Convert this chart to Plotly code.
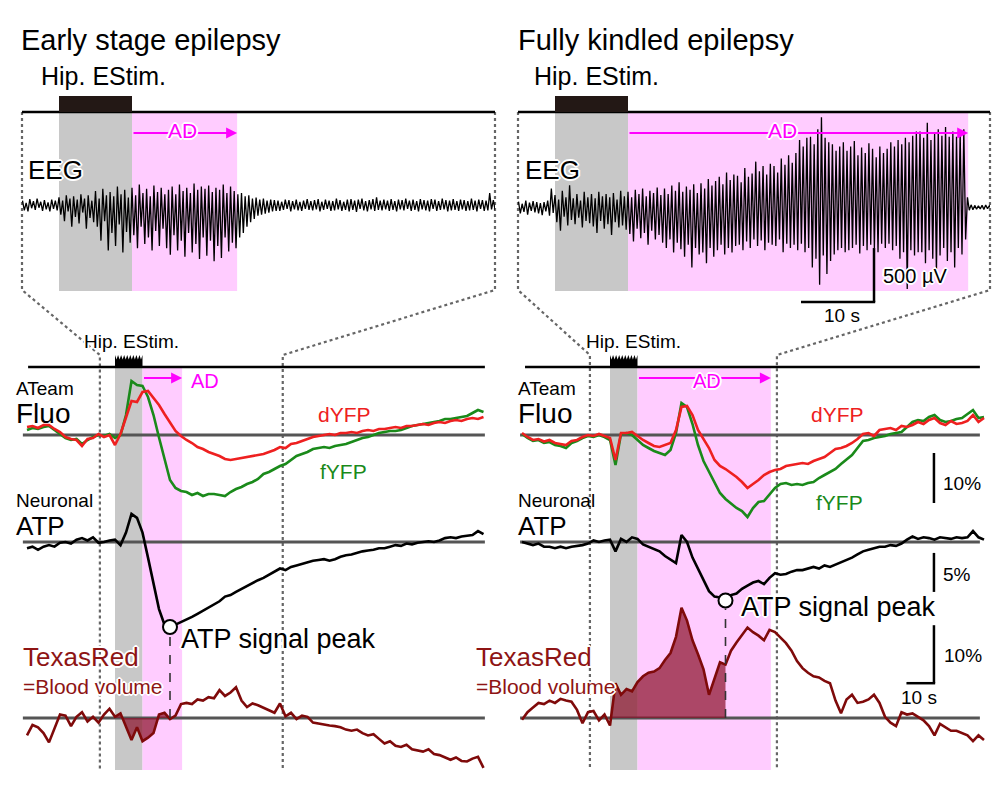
import numpy as np
import plotly.graph_objects as go

W, H = 1000, 796
FONT = "Liberation Sans, Arial, Helvetica, sans-serif"

# ======================= DATA =======================
STIM_DUR = 10.0                       # s, hippocampal electrical stimulation
AD_END_TOP = {"L": 24.4, "R": 56.6}   # s, end of afterdischarge (EEG view)
AD_END_LOW = {"L": 24.4, "R": 58.5}   # s, end of afterdischarge (imaging view)

# EEG (uV), sampled every 0.25 s starting at -5 s
EEG_T0, EEG_DT = -5.0, 0.25
eeg_left = [
    40, -50, 20, -60, 55, -30, 35, -45, 60, -25, 30, -55, 45, -40, 25, -60, 50, -35, 40, -50,
    70, -90, 40, -150, 90, -60, 60, -200, 80, -110, 50, -170, 100, -70, 60, -220, 90, -120, 40, -160,
    130, -200, 60, -330, 150, -150, 90, -420, 120, -260, 80, -380, 170, -180, 100, -440, 140, -250, 70, -350,
    160, -280, 90, -400, 190, -200, 110, -360, 150, -300, 80, -420, 180, -240, 120, -380, 160, -220, 100, -400,
    140, -460, 170, -280, 100, -420, 190, -330, 130, -480, 160, -260, 110, -440, 200, -360, 140, -500, 170, -300,
    150, -470, 180, -330, 120, -520, 160, -380, 140, -490, 190, -300, 110, -430, 170, -350, 130, -400, 100, -300,
    110, -260, 80, -200, 90, -160, 60, -130, 70, -100, 50, -90, 60, -80, 40, -70, 50, -60, 45, -55,
    40, -55, 30, -45, 50, -35, 45, -60, 35, -40, 50, -50, 30, -55, 40, -35, 55, -45, 35, -50,
    45, -40, 55, -60, 30, -45, 50, -35, 40, -55, 35, -50, 60, -40, 45, -55, 30, -45, 50, -60,
    55, -45, 40, -65, 50, -35, 60, -50, 35, -60, 45, -40, 55, -55, 70, -45, 40, -50, 50, -40,
    40, -55, 55, -45, 35, -60, 50, -40, 45, -50, 60, -35, 40, -55, 50, -45, 35, -60, 55, -40,
    45, -50, 40, -60, 55, -35, 50, -55, 35, -45, 60, -40, 45, -60, 40, -50, 55, -45, 35, -55,
    50, -40, 45, -55, 35, -50, 60, -45, 40, -60, 50, -35, 45, -55, 40, -50, 110, -40, 45, -50]
eeg_right = [
    50, -60, 30, -45, 60, -70, 40, -35, 55, -50, 45, -60, 35, -75, 45, -40, 60, -80, 170, -55,
    110, -140, 70, -220, 150, -90, 90, -170, 200, -120, 80, -160, 120, -100, 60, -190, 140, -130, 90, -150,
    120, -180, 80, -240, 140, -130, 100, -200, 120, -160, 90, -260, 130, -140, 70, -190, 150, -170, 100, -210,
    140, -250, 90, -320, 160, -200, 120, -290, 170, -240, 100, -350, 150, -220, 130, -300, 180, -260, 110, -330,
    170, -380, 120, -300, 200, -420, 150, -330, 230, -390, 140, -460, 190, -350, 160, -560, 210, -380, 130, -440,
    220, -420, 170, -520, 260, -380, 200, -460, 240, -400, 280, -350, 210, -440, 320, -380, 250, -420, 300, -360,
    290, -350, 230, -400, 360, -320, 280, -380, 310, -300, 420, -360, 330, -310, 380, -400, 300, -330, 400, -350,
    380, -360, 320, -300, 450, -420, 390, -340, 480, -380, 410, -350, 500, -400, 620, -340, 560, -420, 640, -380,
    650, -560, 580, -480, 720, -720, 830, -450, 640, -620, 600, -500, 580, -440, 520, -400, 560, -380, 600, -420,
    520, -400, 560, -380, 610, -350, 480, -430, 550, -360, 500, -400, 590, -350, 540, -380, 460, -420, 560, -340,
    500, -380, 540, -340, 600, -400, 560, -360, 620, -480, 580, -420, 640, -760, 600, -400, 660, -450, 700, -420,
    700, -420, 640, -520, 780, -400, 620, -480, 680, -620, 720, -450, 660, -380, 740, -500, 650, -420, 700, -560,
    650, -380, 700, -440, 720, -300, 90, -30, 20, -25, 15, -20, 12, -18, 15, -22, 18, -15, 12, -18]

# Imaging traces (%), sampled every 2 s starting at -32 s
LOW_T0, LOW_DT = -32.0, 2.0
left_dyfp = [
    1.6, 1.8, 1.4, 2.0, 2.0, 1.2, 0.6, -0.4, -0.8, -1.0,
    -2.2, -0.8, -0.6, 0.2, -0.4, 0.0, -2.0, 0.2, 3.5, 6.8,
    6.6, 8.6, 8.8, 7.4, 6.0, 4.2, 2.4, 0.8, -0.2, -1.0,
    -1.6, -2.4, -2.8, -3.4, -3.8, -4.2, -4.8, -5.0, -4.8, -4.6,
    -4.4, -4.2, -4.0, -3.8, -3.4, -3.0, -2.4, -2.6, -1.8, -1.6,
    -1.2, -0.8, -0.4, -0.2, 0.0, 0.2, 0.0, 0.4, 0.4, 0.6,
    0.4, 0.8, 1.0, 0.8, 1.2, 1.2, 1.4, 1.6, 1.4, 1.8,
    1.8, 2.0, 2.2, 2.0, 2.4, 2.6, 2.4, 2.8, 3.0, 2.8,
    3.2, 3.4, 3.2, 3.6]
left_fyfp = [
    1.0, 1.4, 1.2, 1.6, 1.8, 1.0, 0.2, -0.6, -1.0, -0.8,
    -1.8, -1.0, -0.4, 0.0, -0.2, 0.2, -0.6, 0.0, 4.0, 10.8,
    10.0, 9.8, 7.6, 4.0, -0.5, -5.0, -9.0, -10.6, -11.2, -11.4,
    -12.0, -11.6, -12.2, -11.8, -11.8, -12.0, -12.2, -11.4, -10.8, -10.4,
    -9.8, -9.4, -8.8, -7.8, -7.4, -6.8, -6.2, -5.8, -5.0, -4.2,
    -3.8, -3.4, -2.8, -2.6, -2.4, -2.6, -2.2, -2.0, -1.8, -1.4,
    -1.0, -0.6, -0.4, 0.0, 0.4, 0.6, 0.8, 0.8, 1.0, 1.4,
    1.8, 2.0, 2.2, 2.4, 2.6, 2.8, 3.2, 3.2, 3.4, 3.6,
    3.8, 4.4, 5.0, 4.6]
left_atp = [
    -0.8, -0.6, -1.0, -0.6, -0.4, -0.6, -0.1, 0.0, -0.2, 0.3,
    0.5, 0.2, 0.6, -0.1, 0.0, 0.2, 0.3, -0.4, 1.2, 3.6,
    3.1, 1.2, -2.0, -5.4, -8.6, -10.6, -10.9, -10.6, -10.3, -9.9,
    -9.6, -9.2, -8.8, -8.4, -8.0, -7.6, -7.0, -6.8, -6.4, -6.0,
    -5.6, -5.2, -4.9, -4.6, -4.2, -3.9, -3.4, -3.6, -3.2, -3.0,
    -2.8, -2.6, -2.4, -2.3, -2.2, -2.4, -2.2, -1.9, -1.7, -1.6,
    -1.4, -1.2, -1.1, -1.0, -0.8, -0.8, -0.6, -0.4, -0.5, -0.2,
    -0.3, -0.1, 0.0, 0.1, 0.0, 0.2, 0.5, 0.6, 0.5, 0.7,
    0.8, 0.9, 1.4, 1.0]
left_tex = [
    -3.0, -1.2, -1.6, -2.6, -4.2, -1.8, 0.6, 0.4, -1.4, 0.2,
    1.0, -0.6, 0.2, -0.8, 0.6, 1.6, 0.2, 0.8, -1.4, -3.8,
    -1.6, -4.0, -3.4, -2.6, 0.6, 0.9, -0.2, 0.4, 2.4, 2.6,
    2.4, 3.2, 3.0, 3.6, 3.4, 4.8, 3.8, 4.4, 5.3, 3.0,
    1.9, 2.5, 2.2, 1.8, 1.4, 0.9, 2.5, 0.3, 0.9, -0.2,
    0.4, 0.2, -0.8, -1.0, -1.1, -1.3, -1.4, -1.6, -2.0, -2.2,
    -2.0, -2.6, -3.0, -2.8, -3.6, -4.4, -4.0, -4.8, -5.0, -4.6,
    -5.4, -5.6, -5.8, -5.4, -6.2, -6.4, -6.8, -7.2, -6.8, -7.4,
    -7.5, -7.0, -6.7, -8.6]
right_dyfp = [
    0.4, -0.4, -1.0, -0.8, -1.3, -1.0, -1.6, -1.8, -2.0, -1.2,
    -1.0, -0.4, 0.0, -0.2, 0.2, -0.2, -0.6, -5.0, 0.4, 0.4,
    0.6, -0.2, -1.0, -1.6, -2.2, -2.4, -2.0, -1.6, 1.0, 5.6,
    5.8, 4.0, 1.0, -0.8, -2.6, -5.0, -6.2, -6.8, -7.6, -8.4,
    -9.4, -10.6, -9.8, -9.0, -8.0, -7.4, -7.0, -6.8, -6.2, -6.0,
    -5.8, -5.6, -5.8, -5.2, -4.8, -4.4, -3.6, -2.8, -2.6, -2.2,
    -1.6, -0.8, 0.2, 0.4, -0.2, 1.0, 1.2, 1.4, 1.0, 1.8,
    1.6, 2.0, 2.6, 2.2, 3.0, 3.4, 2.4, 2.0, 2.8, 2.2,
    2.4, 2.8, 4.0, 2.6, 3.4]
right_fyfp = [
    0.2, -0.6, -1.2, -1.0, -1.6, -1.4, -2.0, -2.2, -2.6, -1.6,
    -1.2, -0.6, -0.2, -0.4, 0.0, -0.4, -1.0, -6.0, 0.2, 0.4,
    0.0, -1.0, -2.0, -2.6, -3.2, -3.6, -4.0, -3.0, 0.4, 6.4,
    5.6, 2.2, -2.0, -5.2, -7.4, -9.6, -11.6, -12.8, -13.8, -14.6,
    -15.2, -16.4, -14.6, -13.4, -13.2, -12.0, -10.6, -9.8, -9.6, -10.0,
    -9.8, -10.0, -9.6, -9.4, -8.6, -8.0, -7.4, -6.8, -5.8, -4.8,
    -4.0, -2.6, -1.2, -1.0, -0.6, -0.4, -0.2, 0.2, 0.4, 0.6,
    1.6, 2.6, 3.0, 2.8, 3.6, 4.0, 3.0, 2.6, 2.8, 3.2,
    3.4, 4.2, 5.0, 3.4, 3.6]
right_atp = [
    0.0, -0.2, -0.4, -0.2, -0.6, -0.6, -0.8, -0.6, -0.8, -0.6,
    -0.5, -0.4, -0.2, 0.2, 0.0, 0.2, 0.3, -1.2, 0.4, 0.0,
    0.6, 0.4, -0.3, -0.6, -0.8, -1.2, -1.8, -2.3, -2.7, 0.9,
    0.0, -2.0, -3.4, -4.9, -6.3, -7.0, -7.1, -7.5, -6.8, -6.6,
    -6.0, -5.6, -5.2, -5.0, -5.4, -4.6, -4.0, -4.2, -4.1, -3.8,
    -3.6, -3.6, -3.4, -3.2, -3.4, -3.0, -3.2, -2.9, -2.6, -2.4,
    -2.0, -1.6, -1.2, -1.0, -0.8, -0.6, -0.6, -0.4, -0.5, -0.2,
    0.3, 0.7, 0.4, 0.6, 0.5, 0.3, 0.6, 0.5, 0.4, 0.6,
    0.5, 0.6, 1.4, 0.6, 0.3]
right_tex = [
    -0.3, 1.0, 1.8, 2.6, 2.4, 3.0, 2.6, 3.3, 3.0, 2.8,
    1.4, -0.9, 1.0, 1.2, -0.4, 0.6, -1.3, 6.0, 4.0, 5.0,
    4.6, 6.2, 7.2, 7.8, 8.0, 8.6, 10.0, 11.2, 14.0, 19.0,
    16.8, 13.4, 11.0, 8.4, 4.0, 6.8, 9.6, 9.2, 11.6, 13.0,
    14.4, 15.6, 14.8, 14.2, 13.4, 15.2, 14.8, 13.8, 12.9, 11.6,
    9.8, 8.6, 7.8, 7.2, 7.0, 6.4, 6.0, 3.0, 0.8, 3.2,
    4.0, 2.6, 2.8, 3.2, 4.0, 2.6, 0.2, -0.8, -1.4, 1.0,
    0.6, 0.8, 0.2, -0.4, -1.4, -3.0, -1.0, -1.6, -2.2, -2.2,
    -2.6, -3.0, -4.0, -3.0, -3.8]

# scale bars
SCALE_FLUO, SCALE_ATP, SCALE_TEX, SCALE_T, SCALE_EEG = 10, 5, 10, 10, 500

# ======================= GEOMETRY / STYLE =======================
TOP_GEOM = {"L": dict(t0=59, dom=(22, 495), base=205),
            "R": dict(t0=555, dom=(518, 990), base=207)}
TOP_PPX = 7.3            # px per s (EEG)
EEG_PPU = 0.108          # px per uV
TOP_YDOM = (100, 300)
LOW_GEOM = {"L": dict(t0=115, dom=(18, 492), win=(-5.5, 61.0), base_ext=(-33.5, 134.5), line_ext=(-31.6, 134.5)),
            "R": dict(t0=610, dom=(512, 995), win=(-7.3, 60.7), base_ext=(-32.7, 134.5), line_ext=(-30.9, 134.5))}
LOW_PPX = 2.75           # px per s (imaging)
ROWS = {"fluo": (435, 5.0), "atp": (542, 7.8), "tex": (718, 5.8)}  # baseline px, px per %
LOW_YDOM = (340, 790)

GRAY = "#C8C8C8"
PINK = "#FFCCFF"
MAG = "#FF00FF"
RED = "#EE2020"
GREEN = "#1A8A1A"
DRED = "#7F0A0A"
DRED_TXT = "#8E1414"
BASEC = "#555555"
DOTC = "#666666"
FILLC = "rgba(140,20,45,0.72)"
HALO = ("2px 0px 0px white, -2px 0px 0px white, 0px 2px 0px white, 0px -2px 0px white, "
        "1px 1px 0px white, -1px -1px 0px white, 1px -1px 0px white, -1px 1px 0px white")
LW = 2.6


def xp(px):
    return px / W


def yp(py):
    return 1 - py / H


def top_px(p, t):
    return TOP_GEOM[p]["t0"] + t * TOP_PPX


def low_px(p, t):
    return LOW_GEOM[p]["t0"] + t * LOW_PPX


def row_py(row, v):
    base, ppu = ROWS[row]
    return base - v * ppu


def eeg_py(p, v):
    return TOP_GEOM[p]["base"] - v * EEG_PPU


# ======================= AXES =======================
axes = {}
for p, k in (("L", ""), ("R", "2")):
    g = TOP_GEOM[p]
    d0, d1 = g["dom"]
    axes["xaxis" + k] = dict(domain=[xp(d0), xp(d1)],
                             range=[(d0 - g["t0"]) / TOP_PPX, (d1 - g["t0"]) / TOP_PPX],
                             anchor="y" + k, visible=False)
    axes["yaxis" + k] = dict(domain=[yp(TOP_YDOM[1]), yp(TOP_YDOM[0])],
                             range=[(g["base"] - TOP_YDOM[1]) / EEG_PPU, (g["base"] - TOP_YDOM[0]) / EEG_PPU],
                             anchor="x" + k, visible=False)

LOW_IDS = {"L": ("3", ("3", "4", "5")), "R": ("4", ("6", "7", "8"))}
for p, (xn, yns) in LOW_IDS.items():
    g = LOW_GEOM[p]
    d0, d1 = g["dom"]
    axes["xaxis" + xn] = dict(domain=[xp(d0), xp(d1)],
                              range=[(d0 - g["t0"]) / LOW_PPX, (d1 - g["t0"]) / LOW_PPX],
                              anchor="y" + yns[0], visible=False)
    for row, yn in zip(("fluo", "atp", "tex"), yns):
        base, ppu = ROWS[row]
        ax = dict(range=[(base - LOW_YDOM[1]) / ppu, (base - LOW_YDOM[0]) / ppu],
                  anchor="x" + xn, visible=False)
        if yn == yns[0]:
            ax["domain"] = [yp(LOW_YDOM[1]), yp(LOW_YDOM[0])]
        else:
            ax["overlaying"] = "y" + yns[0]
        axes["yaxis" + yn] = ax

# ======================= TRACES =======================
traces = []
for p, eeg, k in (("L", eeg_left, ""), ("R", eeg_right, "2")):
    te = EEG_T0 + EEG_DT * np.arange(len(eeg))
    traces.append(go.Scatter(x=te, y=eeg, mode="lines", line=dict(color="black", width=1.3),
                             xaxis="x" + k, yaxis="y" + k, hoverinfo="skip"))

panels = {"L": (left_dyfp, left_fyfp, left_atp, left_tex),
          "R": (right_dyfp, right_fyfp, right_atp, right_tex)}
for p, (dy, fy, atp, tex) in panels.items():
    xn, (yf, ya, yt) = LOW_IDS[p]
    t = LOW_T0 + LOW_DT * np.arange(len(dy))
    atp_a = np.array(atp)
    tex_a = np.array(tex)
    ip = int(np.argmin(atp_a))
    tpk, vmin = t[ip], atp_a[ip]
    X = "x" + xn
    traces.append(go.Scatter(x=t, y=fy, mode="lines", line=dict(color=GREEN, width=LW),
                             xaxis=X, yaxis="y" + yf, hoverinfo="skip"))
    traces.append(go.Scatter(x=t, y=dy, mode="lines", line=dict(color=RED, width=LW),
                             xaxis=X, yaxis="y" + yf, hoverinfo="skip"))
    traces.append(go.Scatter(x=t, y=atp, mode="lines", line=dict(color="black", width=LW),
                             xaxis=X, yaxis="y" + ya, hoverinfo="skip"))
    traces.append(go.Scatter(x=[tpk], y=[vmin], mode="markers",
                             marker=dict(size=14, color="white", line=dict(color="black", width=2)),
                             xaxis=X, yaxis="y" + ya, hoverinfo="skip"))
    m = (t >= 0) & (t <= tpk)
    xs = np.concatenate([[t[m][0]], t[m], [t[m][-1]]])
    ys = np.concatenate([[0], tex_a[m], [0]])
    traces.append(go.Scatter(x=xs, y=ys, mode="lines", fill="toself", fillcolor=FILLC,
                             line=dict(width=0), xaxis=X, yaxis="y" + yt, hoverinfo="skip"))
    traces.append(go.Scatter(x=t, y=tex, mode="lines", line=dict(color=DRED, width=LW),
                             xaxis=X, yaxis="y" + yt, hoverinfo="skip"))
    # dashed drop line from ATP peak down to the TexasRed baseline
    top_py = row_py("atp", vmin) + 8
    y_top = (ROWS["tex"][0] - top_py) / ROWS["tex"][1]
    traces.append(go.Scatter(x=[tpk, tpk], y=[0, y_top], mode="lines",
                             line=dict(color="#333333", width=1.6, dash="dash"),
                             xaxis=X, yaxis="y" + yt, hoverinfo="skip"))

# ======================= SHAPES =======================
shapes = []


def rect(x0, x1, y0, y1, color, layer="below"):
    shapes.append(dict(type="rect", xref="paper", yref="paper", x0=xp(x0), x1=xp(x1),
                       y0=yp(y1), y1=yp(y0), fillcolor=color, line=dict(width=0), layer=layer))


def seg(x0, y0, x1, y1, color="black", width=2.5, dash="solid", layer="below"):
    shapes.append(dict(type="line", xref="paper", yref="paper", x0=xp(x0), y0=yp(y0),
                       x1=xp(x1), y1=yp(y1), line=dict(color=color, width=width, dash=dash), layer=layer))


def path(pts, color=None, fill=None, width=2, dash="solid", closed=False, layer="below"):
    d = "M " + " L ".join(f"{xp(x):.5f},{yp(y):.5f}" for x, y in pts) + (" Z" if closed else "")
    s = dict(type="path", xref="paper", yref="paper", path=d, layer=layer)
    if fill:
        s["fillcolor"] = fill
        s["line"] = dict(width=0)
    else:
        s["line"] = dict(color=color, width=width, dash=dash)
    shapes.append(s)


for p in ("L", "R"):
    g, lg = TOP_GEOM[p], LOW_GEOM[p]
    # --- EEG box ---
    rect(top_px(p, 0), top_px(p, STIM_DUR), 112, 291, GRAY)
    rect(top_px(p, STIM_DUR), top_px(p, AD_END_TOP[p]), 112, 291, PINK)
    # --- imaging box ---
    rect(low_px(p, 0), low_px(p, STIM_DUR), 367, 770, GRAY)
    rect(low_px(p, STIM_DUR), low_px(p, AD_END_LOW[p]), 367, 770, PINK)
    # dotted zoom connectors
    d0, d1 = g["dom"]
    w0, w1 = low_px(p, lg["win"][0]), low_px(p, lg["win"][1])
    path([(d0, 112), (d0, 290), (w0, 355), (w0, 770)], color=DOTC, width=2.2, dash="dot")
    path([(d1, 112), (d1, 290), (w1, 355), (w1, 770)], color=DOTC, width=2.2, dash="dot")
    # baselines
    for row in ("fluo", "atp", "tex"):
        seg(low_px(p, lg["base_ext"][0]), row_py(row, 0), low_px(p, lg["base_ext"][1]), row_py(row, 0),
            color=BASEC, width=3)
    # top lines and stimulus bars
    seg(d0, 112, d1, 112, width=2.5, layer="above")
    rect(top_px(p, 0), top_px(p, STIM_DUR), 96, 112, "#231815", layer="above")
    seg(low_px(p, lg["line_ext"][0]), 367, low_px(p, lg["line_ext"][1]), 367, width=2.5, layer="above")
    x0, x1 = low_px(p, 0), low_px(p, STIM_DUR)
    n = 9
    wd = (x1 - x0) / n
    pts = [(x0, 367), (x0, 355)]
    for i in range(n):
        pts += [(x0 + (i + 0.5) * wd, 359.5), (x0 + (i + 1) * wd, 355)]
    pts += [(x1, 367)]
    path(pts, fill="black", closed=True, layer="above")

# scale bars (right panel)
sb_t = 117.8
xb = low_px("R", sb_t)
seg(xb, row_py("fluo", -3.6), xb, row_py("fluo", -3.6 - SCALE_FLUO), layer="above")
seg(xb, row_py("atp", -1.4), xb, row_py("atp", -1.4 - SCALE_ATP), layer="above")
seg(xb, row_py("tex", 6.0 + SCALE_TEX), xb, row_py("tex", 6.0), layer="above")
seg(low_px("R", sb_t - SCALE_T), row_py("tex", 6.0), xb + 1.2, row_py("tex", 6.0), layer="above")
eb_t = 43.7
xe = top_px("R", eb_t)
seg(xe, eeg_py("R", -380), xe, eeg_py("R", -380 - SCALE_EEG), layer="above")
seg(top_px("R", eb_t - SCALE_T), eeg_py("R", -380 - SCALE_EEG), xe + 1.2, eeg_py("R", -380 - SCALE_EEG),
    layer="above")

# ======================= ANNOTATIONS =======================
anns = []


def txt(s, px, py, size, color="black", anchor="left", halo=False):
    f = dict(family=FONT, size=size, color=color)
    if halo:
        f["shadow"] = HALO
    anns.append(dict(text=s, x=xp(px), y=yp(py), xref="paper", yref="paper", xanchor=anchor,
                     yanchor="middle", showarrow=False, font=f))


def arrow(x0, x1, py):
    anns.append(dict(text="", x=xp(x1), y=yp(py), xref="paper", yref="paper",
                     ax=-(x1 - x0), ay=0, axref="pixel", ayref="pixel", showarrow=True,
                     arrowhead=2, arrowsize=1.1, arrowwidth=2, arrowcolor=MAG, standoff=0))


for p in ("L", "R"):
    arrow(top_px(p, STIM_DUR), top_px(p, AD_END_TOP[p]), 133)
    arrow(low_px(p, STIM_DUR), low_px(p, AD_END_LOW[p]), 378)

txt("Early stage epilepsy", 19, 40, 29)
txt("Fully kindled epilepsy", 516, 40, 29)
txt("Hip. EStim.", 39, 76, 25)
txt("Hip. EStim.", 532, 76, 25)
txt("EEG", 26, 170, 26, halo=True)
txt("EEG", 523, 170, 26, halo=True)
txt("AD", 182, 130, 21, MAG, anchor="center", halo=True)
txt("AD", 782, 130, 21, MAG, anchor="center", halo=True)
txt("Hip. EStim.", 82, 342, 19, halo=True)
txt("Hip. EStim.", 584, 342, 19, halo=True)
txt("AD", 189, 381, 20, MAG)
txt("AD", 707, 381, 20, MAG, anchor="center", halo=True)
for x0 in (14, 516):
    txt("ATeam", x0, 388, 19)
    txt("Fluo", x0, 413, 28)
    txt("Neuronal", x0, 500, 19)
    txt("ATP", x0, 526, 26)
txt("dYFP", 316, 414, 21, RED)
txt("dYFP", 809, 414, 21, RED)
txt("fYFP", 318, 471, 21, GREEN)
txt("fYFP", 814, 502, 21, GREEN)
txt("ATP signal peak", 179, 639, 27, halo=True)
txt("ATP signal peak", 739, 607, 27, halo=True)
txt("TexasRed", 21, 657, 26, DRED_TXT, halo=True)
txt("TexasRed", 474, 657, 26, DRED_TXT, halo=True)
txt("=Blood volume", 21, 686, 21, DRED_TXT, halo=True)
txt("=Blood volume", 474, 686, 21, DRED_TXT, halo=True)
txt("10%", 941, 483, 19)
txt("5%", 941, 574, 19)
txt("10%", 942, 655, 19)
txt("10 s", 919, 697, 19, anchor="center", halo=True)
txt("500 µV", 881, 276, 20, halo=True)
txt("10 s", 842, 315, 19, anchor="center", halo=True)

fig = go.Figure(data=traces)
fig.update_layout(width=W, height=H, margin=dict(l=0, r=0, t=0, b=0, pad=0),
                  paper_bgcolor="white", plot_bgcolor="rgba(0,0,0,0)", showlegend=False,
                  shapes=shapes, annotations=anns, **axes)

fig.write_html("out.html", config={"displayModeBar": False},
               post_script="document.body.style.margin='0';document.body.style.overflow='hidden';")
